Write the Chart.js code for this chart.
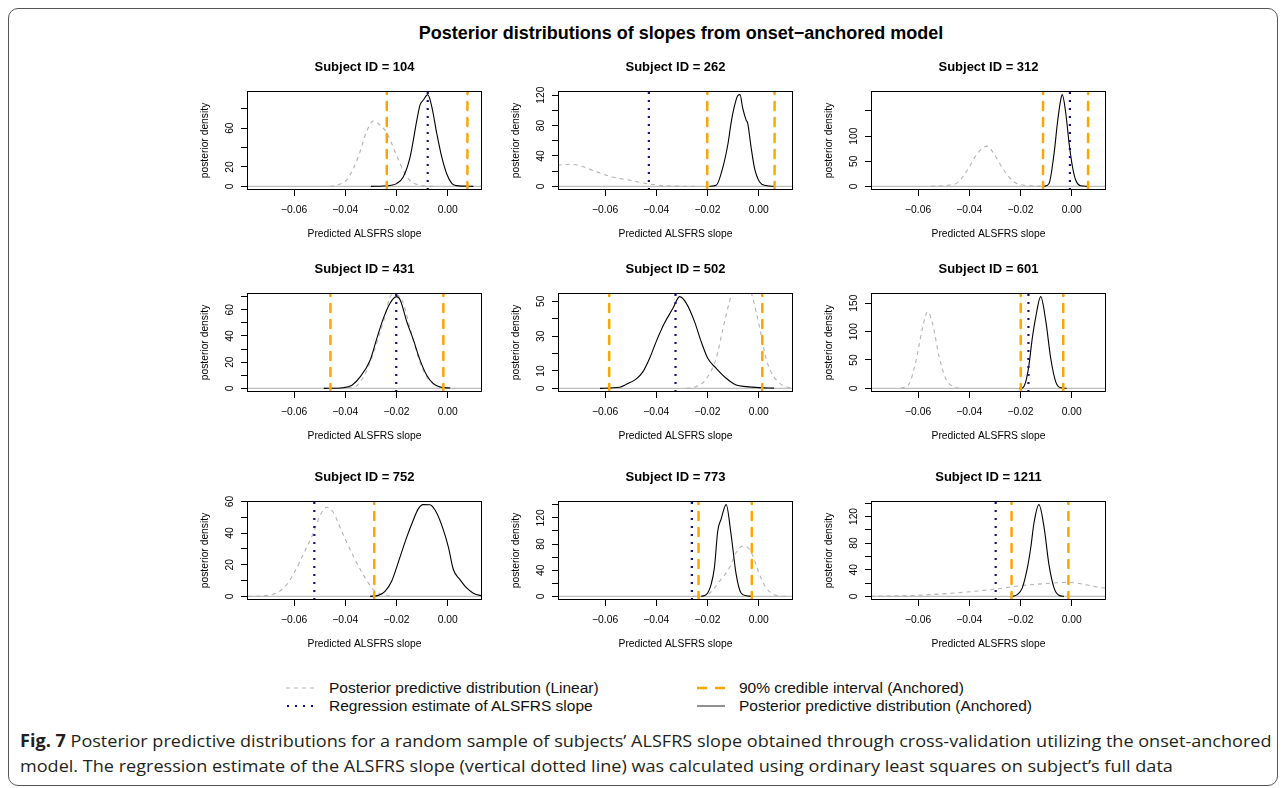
<!DOCTYPE html>
<html><head><meta charset="utf-8">
<script src="https://cdn.jsdelivr.net/npm/chart.js@4/dist/chart.umd.min.js"></script>
<style>
body{margin:0;background:#fff;width:1287px;height:788px;overflow:hidden;position:relative;font-family:"Liberation Sans",Arial,sans-serif;}
.frame{position:absolute;left:8px;top:8px;width:1270px;height:778px;border:1px solid #555;border-radius:10px;box-sizing:border-box;}
canvas.panel{position:absolute;}
#mainTitle{position:absolute;left:281px;width:800px;top:22px;text-align:center;font-weight:bold;font-size:18px;line-height:22px;color:#000;}
.leg{position:absolute;font-size:15.5px;line-height:18px;white-space:nowrap;color:#111;}
svg.sample{position:absolute;overflow:visible;}
.cap{position:absolute;left:20px;font-family:"Open Sans",sans-serif;font-size:17px;line-height:22px;white-space:nowrap;transform-origin:0 50%;color:#231f20;}
</style></head>
<body>
<div class="frame"></div>
<div id="mainTitle">Posterior distributions of slopes from onset−anchored model</div>

<svg class="sample" style="left:286px;top:685px" width="30" height="6"><line x1="0" y1="3" x2="30" y2="3" stroke="#b3b3b3" stroke-width="1" stroke-dasharray="4,4"/></svg>
<div class="leg" style="left:329px;top:679px">Posterior predictive distribution (Linear)</div>
<svg class="sample" style="left:286px;top:703px" width="30" height="6"><line x1="1" y1="3" x2="30" y2="3" stroke="#10108a" stroke-width="2" stroke-dasharray="2,6"/></svg>
<div class="leg" style="left:329px;top:697px">Regression estimate of ALSFRS slope</div>
<svg class="sample" style="left:697px;top:685px" width="30" height="6"><line x1="0" y1="3" x2="28" y2="3" stroke="#ffa500" stroke-width="2.5" stroke-dasharray="10,8"/></svg>
<div class="leg" style="left:739px;top:679px">90% credible interval (Anchored)</div>
<svg class="sample" style="left:697px;top:703px" width="30" height="6"><line x1="0" y1="3" x2="28" y2="3" stroke="#222" stroke-width="1"/></svg>
<div class="leg" style="left:739px;top:697px">Posterior predictive distribution (Anchored)</div>

<div class="cap" id="cap1" style="top:730px"><b>Fig. 7</b> Posterior predictive distributions for a random sample of subjects’ ALSFRS slope obtained through cross-validation utilizing the onset-anchored</div>
<div class="cap" id="cap2" style="top:755px">model. The regression estimate of the ALSFRS slope (vertical dotted line) was calculated using ordinary least squares on subject’s full data</div>

<script>
// ---------------- DATA ----------------
const subjectIds = ['104','262','312','431','502','601','752','773','1211'];
const xTicks = [-0.06, -0.04, -0.02, 0];
const xTickLabels = ['\u22120.06', '\u22120.04', '\u22120.02', '0.00'];
const xDataRange = [-0.075, 0.01];

const ciLower = [-0.0238, -0.0201, -0.0112, -0.0458, -0.0584, -0.0199, -0.0287, -0.0235, -0.0235];
const ciUpper = [0.0077, 0.0062, 0.0064, -0.0017, 0.0014, -0.0033, null, -0.0027, -0.0013];
const regEstimate = [-0.0078, -0.0429, -0.0007, -0.0201, -0.0325, -0.0169, -0.0521, -0.0261, -0.0297];

const yTickStep = [20, 20, 50, 10, 10, 50, 10, 20, 20];
const yTickLabelled = [[0,20,60],[0,40,80,120],[0,50,100],[0,20,40,60],[0,10,30,50],[0,50,100,150],[0,20,40,60],[0,40,80,120],[0,40,80,120]];

const anchored104X = [-0.030,-0.025,-0.022,-0.020,-0.0173,-0.0147,-0.012,-0.0108,-0.0095,-0.0078,-0.0062,-0.0043,-0.0023,-0.0004,0.0016,0.0035,0.006,0.010];
const anchored104Y = [0,0.3,1.2,2.8,10,30,69,84,89,94.5,82,55,30,13,3,0.7,0.2,0];
const linear104X = [-0.046,-0.043,-0.039,-0.035,-0.0316,-0.029,-0.0264,-0.0238,-0.020,-0.0173,-0.0147,-0.0108,-0.007,-0.004];
const linear104Y = [0,1.5,8,30,57,67.5,63,55,32,16,6,1.2,0.2,0];

const anchored262X = [-0.0192,-0.0166,-0.014,-0.012,-0.0108,-0.0095,-0.0082,-0.0073,-0.0062,-0.0049,-0.0043,-0.003,-0.0017,0.0003,0.0029,0.006];
const anchored262Y = [0,1.3,25,56,83,105,119,120.5,102,87,83,52,25,6,1,0];
const linear262X = [-0.0785,-0.0737,-0.0698,-0.0633,-0.0568,-0.0503,-0.0438,-0.0374,-0.031,-0.025];
const linear262Y = [28,29,27,19,12,8,3.5,1,0.3,0];

const anchored312X = [-0.0108,-0.0089,-0.0069,-0.0056,-0.0043,-0.0037,-0.0023,-0.001,0.0003,0.0016,0.0035,0.006];
const anchored312Y = [0,5,65,125,172,182.5,145,85,39,12,1,0];
const linear312X = [-0.055,-0.0486,-0.0447,-0.0408,-0.0369,-0.033,-0.0304,-0.0265,-0.0226,-0.0186,-0.0147,-0.011];
const linear312Y = [0,2,7,32,65,80,65,32,9,2,0.7,0];

const anchored431X = [-0.0484,-0.0407,-0.0374,-0.0342,-0.0303,-0.0277,-0.0251,-0.0225,-0.0201,-0.0186,-0.016,-0.0134,-0.0108,-0.0082,-0.0056,-0.003,0.001];
const anchored431Y = [0,0.5,2.3,8.7,21.5,38,53.6,65,70,67.7,51,37,21.5,10,3.6,1,0.2];
const linear431X = [-0.0484,-0.0367,-0.0329,-0.029,-0.0251,-0.0218,-0.0186,-0.0147,-0.0114,-0.0082,-0.0043,-0.0004,0.003];
const linear431Y = [0,1,8.7,27,51,71.5,70,46,23,8.7,1.8,0.3,0];

const anchored502X = [-0.062,-0.0543,-0.0517,-0.0478,-0.0452,-0.0426,-0.04,-0.0368,-0.0335,-0.0309,-0.0283,-0.0251,-0.0225,-0.0199,-0.0166,-0.0127,-0.0088,-0.0049,0.0003,0.006];
const anchored502Y = [0,0.6,2.3,5.4,9.6,17.3,27,37.5,46,52.7,49,38.5,27,17.3,11.5,5.8,1.9,1,0.4,0.1];
const linear502X = [-0.0283,-0.0244,-0.0205,-0.0166,-0.014,-0.0114,-0.009,-0.0065,-0.004,-0.001,0.0009,0.0029,0.0055,0.0087,0.012,0.014];
const linear502Y = [0,1,5.4,17.3,34,50,61,64,60,44,31,17,7.7,2.3,0.4,0];

const anchored601X = [-0.0205,-0.0193,-0.018,-0.0167,-0.0154,-0.0141,-0.0121,-0.0101,-0.0082,-0.0062,-0.0043,-0.002];
const anchored601Y = [0,0.5,11,41,88,124,161.5,118,53,11,1,0];
const linear601X = [-0.0668,-0.0635,-0.0609,-0.0583,-0.0563,-0.0544,-0.0518,-0.0492,-0.0459,-0.0433];
const linear601Y = [0,8,47,106,135,115,56,17,2.4,0];

const anchored752X = [-0.0303,-0.0271,-0.0245,-0.0219,-0.0187,-0.0161,-0.0135,-0.0116,-0.0096,-0.007,-0.0044,-0.0018,0.0003,0.0022,0.0048,0.0074,0.01,0.0126,0.016];
const anchored752Y = [0,0.6,3.2,9.6,24.5,37,48,55,58,57.9,53,42.5,31,17,10.6,5.3,2,0.6,0.2];
const linear752X = [-0.078,-0.072,-0.068,-0.064,-0.0603,-0.0564,-0.0525,-0.0499,-0.0473,-0.0447,-0.0408,-0.0369,-0.033,-0.0291,-0.0251,-0.0212];
const linear752Y = [0,0.3,1.5,5.3,13.8,26.6,40,51,56.4,53,39,25.5,13.8,4.3,1,0];

const anchored773X = [-0.0225,-0.0205,-0.0186,-0.0173,-0.016,-0.0147,-0.0127,-0.0108,-0.0088,-0.0069,-0.0049,-0.003];
const anchored773Y = [0,2.6,18,44,100,118,140.3,95,33.5,5,1,0];
const linear773X = [-0.0257,-0.0205,-0.0179,-0.0153,-0.0114,-0.0088,-0.0062,-0.0043,-0.0023,0.0003,0.0029,0.0055,0.0081,0.0105];
const linear773Y = [0,1.5,10,23,44,67,77,75,62,33.5,13,3.6,0.5,0];

const anchored1211X = [-0.0232,-0.0213,-0.0193,-0.0173,-0.016,-0.0147,-0.0128,-0.0108,-0.0089,-0.0069,-0.005,-0.003];
const anchored1211Y = [0,2.5,12.7,43,73,111,137.8,104,48,12.7,1.5,0];
const linear1211X = [-0.0786,-0.0604,-0.0512,-0.0408,-0.0304,-0.02,-0.0108,-0.0017,0.0035,0.0087,0.0134];
const linear1211Y = [0.2,1.5,3.5,6.6,10.6,16,19,21,19,15,12];

const anchoredX = [anchored104X, anchored262X, anchored312X, anchored431X, anchored502X, anchored601X, anchored752X, anchored773X, anchored1211X];
const anchoredY = [anchored104Y, anchored262Y, anchored312Y, anchored431Y, anchored502Y, anchored601Y, anchored752Y, anchored773Y, anchored1211Y];
const linearX = [linear104X, linear262X, linear312X, linear431X, linear502X, linear601X, linear752X, linear773X, linear1211X];
const linearY = [linear104Y, linear262Y, linear312Y, linear431Y, linear502Y, linear601Y, linear752Y, linear773Y, linear1211Y];

// ---------------- LAYOUT / STYLE ----------------
const panelCols = [247, 558, 871];
const panelRows = [91, 293, 501];
const BOX_W = 235, BOX_H = 99, AX_W = 60, TITLE_H = 38, AX_H = 56, PAD_R = 14;
const FAMILY = "'Liberation Sans', Arial, Helvetica, sans-serif";
const GRAY = '#b3b3b3', ZERO = '#bebebe', ORANGE = '#ffa500', NAVY = '#10108a';

const measureCtx = document.createElement('canvas').getContext('2d');
measureCtx.font = '10.3px ' + FAMILY;

const boxPlugin = {
  id: 'box',
  afterDraw(chart) {
    const {ctx, chartArea: a} = chart;
    ctx.save();
    ctx.strokeStyle = '#000';
    ctx.lineWidth = 1;
    const l = Math.round(a.left) + 0.5, t = Math.round(a.top) + 0.5;
    const r = Math.round(a.right) - 0.5, b = Math.round(a.bottom) - 0.5;
    ctx.strokeRect(l, t, r - l, b - t);
    ctx.restore();
  }
};

function curve(xs, ys, color, dash, width, cap) {
  return {data: xs.map((x, k) => ({x: x, y: ys[k]})), borderColor: color, borderWidth: width,
    borderDash: dash, borderCapStyle: cap || 'butt', cubicInterpolationMode: 'monotone',
    pointRadius: 0, fill: false, clip: 0};
}
function straight(points, color, dash, width, cap) {
  return {data: points, borderColor: color, borderWidth: width, borderDash: dash,
    borderCapStyle: cap || 'butt', tension: 0, pointRadius: 0, fill: false, clip: 0};
}

Chart.defaults.font.family = FAMILY;

subjectIds.forEach((id, i) => {
  const col = i % 3, row = Math.floor(i / 3);
  const cv = document.createElement('canvas');
  cv.className = 'panel';
  cv.width = AX_W + BOX_W + PAD_R;
  cv.height = TITLE_H + BOX_H + AX_H;
  cv.style.left = (panelCols[col] - AX_W) + 'px';
  cv.style.top = (panelRows[row] - TITLE_H) + 'px';
  document.body.appendChild(cv);

  const peak = Math.max(...anchoredY[i]);
  const yMin = -0.04 * peak, yMax = 1.04 * peak;
  const span = xDataRange[1] - xDataRange[0];
  const xMin = xDataRange[0] - 0.04 * span, xMax = xDataRange[1] + 0.04 * span;
  const yTicks = [];
  for (let v = 0; v <= yMax; v += yTickStep[i]) yTicks.push(v);
  const labelled = yTickLabelled[i];
  const widest = Math.max(...labelled.map(v => measureCtx.measureText(String(v)).width));

  const datasets = [];
  datasets.push(straight([{x: regEstimate[i], y: yMin}, {x: regEstimate[i], y: yMax}], NAVY, [2, 6], 2.2));
  datasets.push(straight([{x: ciLower[i], y: yMin}, {x: ciLower[i], y: yMax}], ORANGE, [8, 8], 2.5, 'round'));
  if (ciUpper[i] !== null) datasets.push(straight([{x: ciUpper[i], y: yMin}, {x: ciUpper[i], y: yMax}], ORANGE, [8, 8], 2.5, 'round'));
  datasets.push(curve(anchoredX[i], anchoredY[i], '#000', [], 1.1));
  datasets.push(curve(linearX[i], linearY[i], GRAY, [4, 4], 1.1));
  datasets.push(straight([{x: xMin, y: 0}, {x: xMax, y: 0}], ZERO, [], 1.2));

  const tickFont = {family: FAMILY, size: 10.3};
  new Chart(cv, {
    type: 'line',
    data: {datasets: datasets},
    options: {
      responsive: false, animation: false, devicePixelRatio: 1,
      layout: {padding: {left: 0, right: PAD_R, top: 0, bottom: 0}},
      plugins: {
        legend: {display: false}, tooltip: {enabled: false},
        title: {display: true, text: 'Subject ID = ' + id, fullSize: false, color: '#000',
          font: {family: FAMILY, size: 13, weight: 'bold'}, padding: {top: 6.2, bottom: 16.2}}
      },
      scales: {
        x: {
          type: 'linear', min: xMin, max: xMax,
          afterBuildTicks: s => { s.ticks = xTicks.map(v => ({value: v})); },
          afterFit: s => { s.height = AX_H; },
          ticks: {callback: (v, idx) => xTickLabels[idx], color: '#000', font: tickFont, padding: 7.8,
            minRotation: 0, maxRotation: 0, autoSkip: false},
          grid: {drawOnChartArea: false, drawTicks: true, tickLength: 6, tickColor: '#000', tickWidth: 1},
          border: {display: false},
          title: {display: true, text: 'Predicted ALSFRS slope', color: '#000', font: tickFont, padding: {top: 0, bottom: 5.8}}
        },
        y: {
          type: 'linear', min: yMin, max: yMax,
          afterBuildTicks: s => { s.ticks = yTicks.map(v => ({value: v})); },
          afterFit: s => { s.width = AX_W; },
          ticks: {callback: v => labelled.includes(v) ? String(v) : '', color: '#000', font: tickFont,
            minRotation: 90, maxRotation: 90, crossAlign: 'center', padding: 10.7 - widest / 2, autoSkip: false},
          grid: {drawOnChartArea: false, drawTicks: true, tickLength: 6, tickColor: '#000', tickWidth: 1},
          border: {display: false},
          title: {display: true, text: 'posterior density', color: '#000', font: tickFont, padding: {top: 11.8, bottom: 0}}
        }
      }
    },
    plugins: [boxPlugin]
  });
});

// fit caption width
const c1 = document.getElementById('cap1'), c2 = document.getElementById('cap2');
const s = 1252 / c1.scrollWidth;
c1.style.transform = 'scaleX(' + s + ')';
c2.style.transform = 'scaleX(' + s + ')';
</script>
</body></html>
